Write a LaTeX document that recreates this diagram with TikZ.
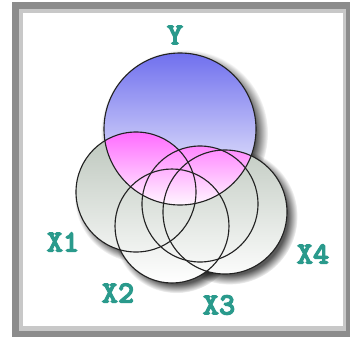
\documentclass[tikz,border=0pt]{standalone}
\usepackage{fontspec}
\newfontfamily\labfont{lmmonolt10-bold.otf}[FakeBold=3.5]
\usetikzlibrary{shadows,fadings}
\definecolor{ink}{HTML}{222222}
\definecolor{framedark}{HTML}{8C8C8C}
\definecolor{framelight}{HTML}{C8C8C8}
\definecolor{ytop}{HTML}{7070EE}
\definecolor{xtop}{HTML}{BCC6BC}
\definecolor{ptop}{HTML}{FF6CFF}
\definecolor{labc}{HTML}{2A9A8C}
\tikzset{
  disc/.style={circle,inner sep=0pt,draw=none},
  shad/.style={circular drop shadow={shadow xshift=1mm,shadow yshift=-1mm,opacity=.65,fill=black}},
  rim/.style={draw=ink,line width=.8pt},
  lab/.style={font=\labfont\fontsize{22}{22}\selectfont,text=labc},
}
\begin{document}
\begin{tikzpicture}[x=0.25mm,y=-0.25mm]
  \useasboundingbox (0,0) rectangle (353,357);
  % frame
  \fill[framedark] (12,2) rectangle (350,337);
  \fill[framelight] (19,9) rectangle (346,331);
  \fill[white] (23,13) rectangle (343,326);

  % circles (shadows only)
  \node[disc,shad,minimum size=30mm] (x1) at (136,192) {};
  \node[disc,shad,minimum size=28.5mm] (x2) at (172,226) {};
  \node[disc,shad,minimum size=29mm] (x3) at (200,204) {};
  \node[disc,shad,minimum size=31mm] (x4) at (225,212) {};
  \node[disc,shad,minimum size=38mm] (y) at (180,129) {};

  % fills
  \shade[top color=xtop,bottom color=white]
    (x1.center) circle[radius=60] (x2.center) circle[radius=57]
    (x3.center) circle[radius=58] (x4.center) circle[radius=62];
  \shade[top color=ytop,bottom color=white] (y.center) circle[radius=76];
  \begin{scope}
    \clip (y.center) circle[radius=76];
    \clip (x1.center) circle[radius=60] (x2.center) circle[radius=57]
      (x3.center) circle[radius=58] (x4.center) circle[radius=62];
    \shade[top color=ptop,bottom color=white] (70,132) rectangle (290,210);
  \end{scope}

  % outlines
  \foreach \n/\r in {y/76,x1/60,x2/57,x3/58,x4/62}
    \draw[rim] (\n.center) circle[radius=\r];

  % labels
  \node[lab] (ly) at (175,35) {Y};
  \node[lab] (lx1) at (63,242) {X1};
  \node[lab] (lx2) at (118,293) {X2};
  \node[lab] (lx3) at (219,305) {X3};
  \node[lab] (lx4) at (313,254) {X4};
\end{tikzpicture}
\end{document}
